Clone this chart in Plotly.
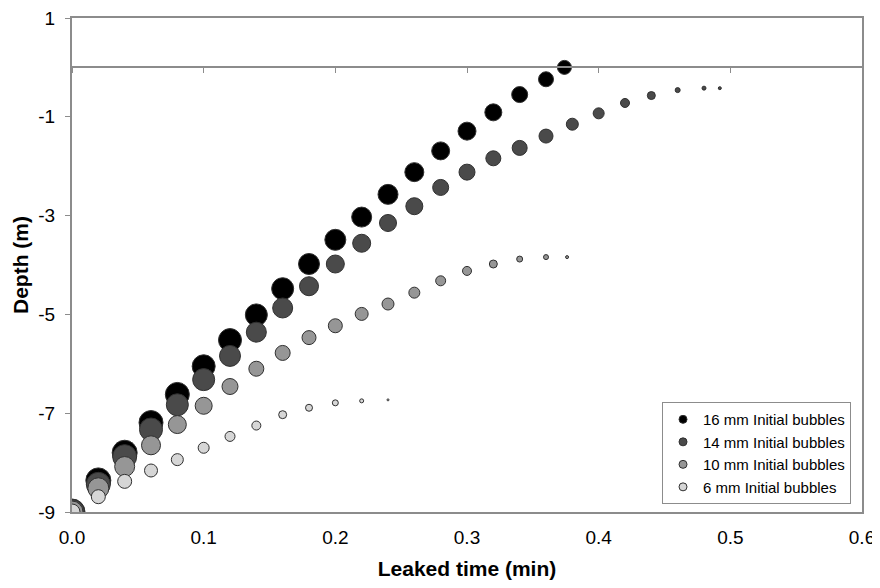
import plotly.graph_objects as go

# ---- data ----
t16 = [0.00, 0.02, 0.04, 0.06, 0.08, 0.10, 0.12, 0.14, 0.16, 0.18, 0.20, 0.22,
       0.24, 0.26, 0.28, 0.30, 0.32, 0.34, 0.36, 0.374]
d16 = [-9.0, -8.36, -7.80, -7.19, -6.62, -6.05, -5.52, -5.01, -4.48, -3.98, -3.49,
       -3.03, -2.57, -2.12, -1.69, -1.29, -0.91, -0.55, -0.24, 0.0]
b16 = [26, 25, 25, 24, 24, 23, 23, 22, 22, 21, 21, 20, 20, 19, 18, 18, 17, 16, 15, 14]

t14 = [0.00, 0.02, 0.04, 0.06, 0.08, 0.10, 0.12, 0.14, 0.16, 0.18, 0.20, 0.22,
       0.24, 0.26, 0.28, 0.30, 0.32, 0.34, 0.36, 0.38, 0.40, 0.42, 0.44, 0.46,
       0.48, 0.492]
d14 = [-9.0, -8.44, -7.88, -7.33, -6.83, -6.32, -5.84, -5.36, -4.87, -4.43, -3.98,
       -3.56, -3.15, -2.81, -2.43, -2.12, -1.84, -1.63, -1.39, -1.15, -0.93, -0.72,
       -0.57, -0.46, -0.42, -0.42]
b14 = [25, 24, 24, 23, 22, 22, 21, 20, 20, 19, 18, 18, 17, 17, 16, 16, 15, 15, 14,
       12, 11, 9, 8, 5, 4, 3]

t10 = [0.00, 0.02, 0.04, 0.06, 0.08, 0.10, 0.12, 0.14, 0.16, 0.18, 0.20, 0.22,
       0.24, 0.26, 0.28, 0.30, 0.32, 0.34, 0.36, 0.376]
d10 = [-9.0, -8.52, -8.08, -7.65, -7.23, -6.85, -6.46, -6.10, -5.78, -5.47, -5.23,
       -4.99, -4.79, -4.56, -4.32, -4.12, -3.98, -3.88, -3.84, -3.84]
b10 = [22, 21, 20, 19, 18, 17, 16, 15, 15, 14, 14, 13, 12, 11, 10, 9, 8, 6, 5, 3]

t6 = [0.00, 0.02, 0.04, 0.06, 0.08, 0.10, 0.12, 0.14, 0.16, 0.18, 0.20, 0.22, 0.24]
d6 = [-9.0, -8.69, -8.38, -8.16, -7.94, -7.70, -7.47, -7.25, -7.03, -6.89, -6.79,
      -6.75, -6.73]
b6 = [16, 14, 14, 13, 12, 11, 10, 9, 8, 7, 6, 4, 2]

names = ["16 mm Initial bubbles", "14 mm Initial bubbles",
         "10 mm Initial bubbles", "6 mm Initial bubbles"]
colors = ["#000000", "#4a4a4a", "#969696", "#d6d6d6"]

x_ticks = [0.0, 0.1, 0.2, 0.3, 0.4, 0.5, 0.6]
x_ticklabels = ["0.0", "0.1", "0.2", "0.3", "0.4", "0.5", "0.6"]
y_ticks = [1, -1, -3, -5, -7, -9]
y_ticklabels = ["1", "-1", "-3", "-5", "-7", "-9"]

FONT = "Arial, Liberation Sans, sans-serif"
AXC = "#8c8c8c"

fig = go.Figure()
series = [(t16, d16, b16), (t14, d14, b14), (t10, d10, b10), (t6, d6, b6)]
for i, ((tx, dy, bs), nm, col) in enumerate(zip(series, names, colors)):
    fig.add_trace(go.Scatter(
        x=tx, y=dy, mode="markers", name=nm, showlegend=False,
        xaxis="x2" if i == 3 else "x",
        marker=dict(size=bs, color=col, opacity=1,
                    line=dict(color="#303030", width=1)),
    ))
# legend entries
for i, (nm, col) in enumerate(zip(names, colors)):
    fig.add_trace(go.Scatter(
        x=[None], y=[None], mode="markers", name=nm, legendgroup=str(i),
        marker=dict(size=8, color=col, opacity=1,
                    line=dict(color="#303030", width=1)),
    ))

fig.update_layout(
    width=872, height=572,
    margin=dict(l=64, r=18, t=10, b=68),
    paper_bgcolor="white", plot_bgcolor="white",
    font=dict(family=FONT, size=19, color="black"),
    showlegend=True,
    legend=dict(x=0.9861, y=0.016, xanchor="right", yanchor="bottom",
                bgcolor="white", bordercolor=AXC, borderwidth=1,
                font=dict(family=FONT, size=15, color="black"),
                tracegroupgap=0, itemwidth=30),
    xaxis=dict(range=[0, 0.6], tickvals=x_ticks, ticktext=x_ticklabels,
               showgrid=False, zeroline=False, showline=True, mirror=True,
               linecolor=AXC, linewidth=2, ticks="", ticklabelstandoff=7,
               automargin=False, ticklabeloverflow="allow",
               tickfont=dict(size=19),
               title=dict(text="<b>Leaked time (min)</b>", standoff=20,
                          font=dict(size=21))),
    xaxis2=dict(range=[0, 0.6], tickvals=x_ticks, overlaying="x",
                anchor="free", position=0.9, showgrid=False, zeroline=False,
                showline=True, linecolor=AXC, linewidth=2, ticks="outside",
                ticklen=5, tickcolor=AXC, tickwidth=1, showticklabels=False,
                automargin=False),
    yaxis=dict(range=[-9, 1], tickvals=y_ticks, ticktext=y_ticklabels,
               showgrid=False, zeroline=False,
               showline=True, mirror=True, linecolor=AXC, linewidth=2,
               ticks="outside", ticklen=5, tickcolor=AXC, tickwidth=1,
               ticklabelstandoff=6, automargin=False, ticklabeloverflow="allow",
               tickfont=dict(size=19),
               title=dict(text="<b>Depth (m)</b>", standoff=4,
                          font=dict(size=21))),
)

fig.write_html("out.html")
